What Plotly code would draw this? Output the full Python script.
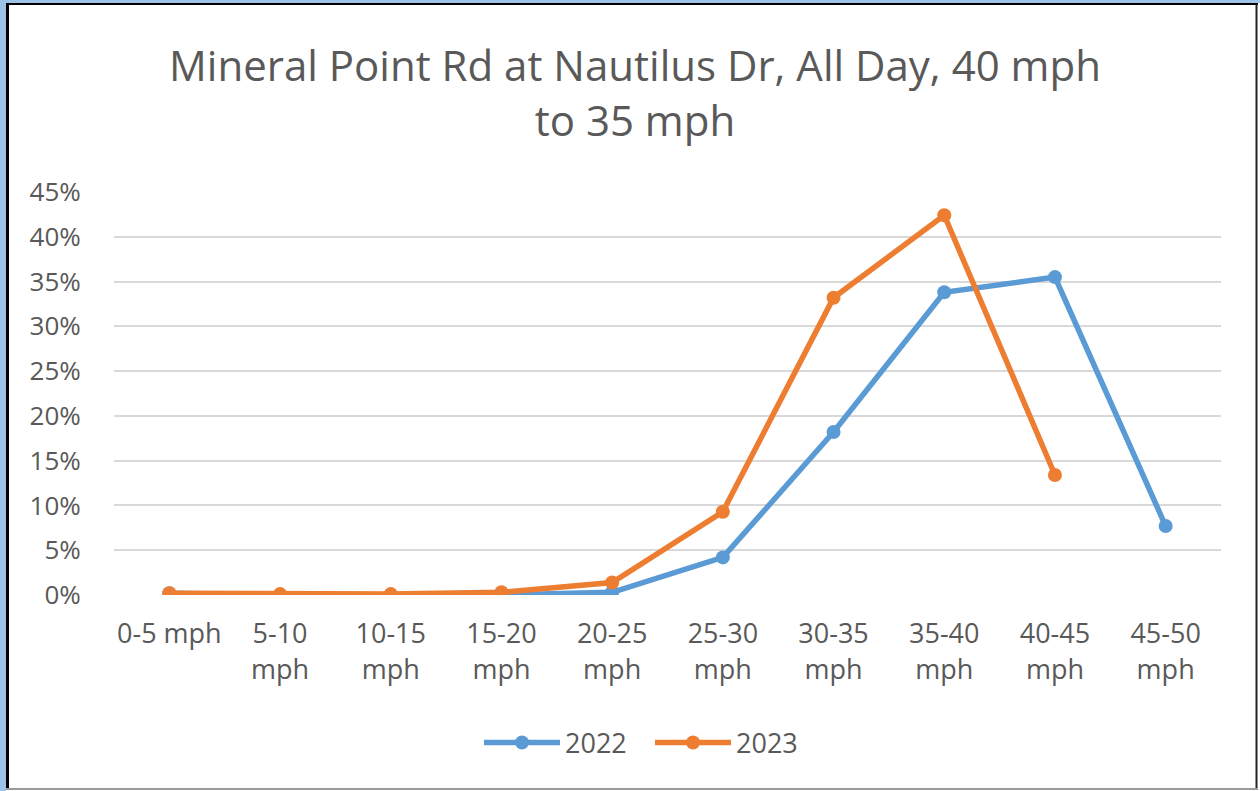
import plotly.graph_objects as go

categories = ["0-5 mph", "5-10<br>mph", "10-15<br>mph", "15-20<br>mph", "20-25<br>mph",
              "25-30<br>mph", "30-35<br>mph", "35-40<br>mph", "40-45<br>mph", "45-50<br>mph"]
y2022 = [0.002, 0.000, 0.000, 0.000, 0.003, 0.042, 0.182, 0.338, 0.355, 0.077]
y2023 = [0.002, 0.001, 0.001, 0.003, 0.014, 0.093, 0.332, 0.424, 0.134, None]
yticks = [0, 0.05, 0.10, 0.15, 0.20, 0.25, 0.30, 0.35, 0.40, 0.45]

W, H = 1260, 791
L, R, T, B = 114, 1221, 192, 595
FONT = "Open Sans"
GREY = "#595959"

def px(x):
    return (x - L) / (R - L)

def py(y):
    return (B - y) / (B - T)

fig = go.Figure()
fig.add_trace(go.Scatter(x=categories, y=y2022, name="2022", mode="lines+markers",
                         line=dict(color="#5B9BD5", width=5.5),
                         marker=dict(color="#5B9BD5", size=14)))
fig.add_trace(go.Scatter(x=categories, y=y2023, name="2023", mode="lines+markers",
                         line=dict(color="#ED7D31", width=5.5),
                         marker=dict(color="#ED7D31", size=14)))

shapes = [
    dict(type="rect", xref="paper", yref="paper", x0=px(0), x1=px(6), y0=py(791), y1=py(0),
         fillcolor="#9DC3E6", line=dict(width=0), layer="below"),
    dict(type="rect", xref="paper", yref="paper", x0=px(0), x1=px(1260), y0=py(3), y1=py(0),
         fillcolor="#9DC3E6", line=dict(width=0), layer="below"),
    dict(type="line", xref="paper", yref="paper", x0=px(7.5), x1=px(7.5), y0=py(789), y1=py(4),
         line=dict(color="#000000", width=3)),
    dict(type="line", xref="paper", yref="paper", x0=px(6), x1=px(1258), y0=py(4), y1=py(4),
         line=dict(color="#000000", width=2)),
    dict(type="line", xref="paper", yref="paper", x0=px(1256.5), x1=px(1256.5), y0=py(789), y1=py(4),
         line=dict(color="#222222", width=2)),
    dict(type="line", xref="paper", yref="paper", x0=px(6), x1=px(1258), y0=py(789), y1=py(789),
         line=dict(color="#9a9a9a", width=2)),
]

fig.update_layout(
    width=W, height=H,
    margin=dict(l=L, r=W - R, t=T, b=H - B, pad=0),
    paper_bgcolor="white", plot_bgcolor="white",
    title=dict(text="Mineral Point Rd at Nautilus Dr, All Day, 40 mph<br>to 35 mph",
               x=px(635), xanchor="center", xref="paper", y=1 - 81 / H, yanchor="middle",
               font=dict(family=FONT, size=42, color=GREY)),
    font=dict(family=FONT, color=GREY),
    showlegend=True,
    legend=dict(orientation="h", x=px(479), xanchor="left", y=-(743 - B) / (B - T),
                yanchor="middle", font=dict(family=FONT, size=27, color=GREY),
                itemwidth=76, tracegroupgap=0, entrywidth=80, entrywidthmode="pixels"),
    shapes=shapes,
)
fig.update_xaxes(type="category", range=[-0.5, len(categories) - 0.5],
                 showgrid=False, showline=False, zeroline=False,
                 ticks="outside", ticklen=15, tickcolor="rgba(0,0,0,0)",
                 tickfont=dict(family=FONT, size=27, color=GREY))
fig.update_yaxes(range=[0, 0.45], tickvals=yticks, tickformat=".0%",
                 showgrid=True, gridcolor="#D9D9D9", gridwidth=1.5,
                 zeroline=False, showline=False,
                 ticks="outside", ticklen=27, tickcolor="rgba(0,0,0,0)",
                 tickfont=dict(family=FONT, size=26, color=GREY))

fig.write_html("out.html", config={"displayModeBar": False},
               post_script="document.body.style.margin='0';document.body.style.padding='0';document.body.style.overflow='hidden';")
